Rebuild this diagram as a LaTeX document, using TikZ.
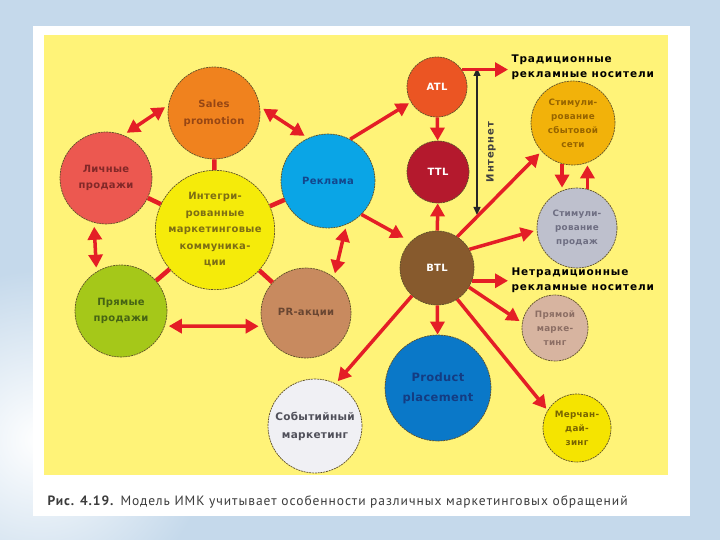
\documentclass[tikz,border=0pt]{standalone}
\usepackage{fontspec}
\setmainfont{DejaVu Sans}
\newfontfamily\circfont{DejaVu Sans}[LetterSpace=3]
\newfontfamily\lblfont{DejaVu Sans}[LetterSpace=8]
\newfontfamily\capfont{PT Sans}[LetterSpace=7]
\usepackage{tikz}
\usetikzlibrary{arrows.meta,positioning}
\definecolor{bgblue}{RGB}{197,217,235}
\definecolor{paneyellow}{RGB}{255,243,120}
\definecolor{rimcol}{RGB}{95,80,40}
\definecolor{arrred}{RGB}{228,30,38}
\definecolor{salesC}{RGB}{240,130,30}
\definecolor{lichC}{RGB}{236,88,80}
\definecolor{imkC}{RGB}{245,235,10}
\definecolor{reklC}{RGB}{10,165,230}
\definecolor{pryamC}{RGB}{165,200,25}
\definecolor{prC}{RGB}{200,138,95}
\definecolor{sobC}{RGB}{240,240,244}
\definecolor{atlC}{RGB}{235,85,35}
\definecolor{ttlC}{RGB}{180,25,45}
\definecolor{btlC}{RGB}{135,90,45}
\definecolor{sbytC}{RGB}{242,178,10}
\definecolor{prodC}{RGB}{190,192,205}
\definecolor{prmC}{RGB}{215,180,160}
\definecolor{ppC}{RGB}{10,120,200}
\definecolor{merchC}{RGB}{245,228,0}
\definecolor{salesT}{RGB}{150,70,20}
\definecolor{lichT}{RGB}{130,40,40}
\definecolor{imkT}{RGB}{125,110,20}
\definecolor{reklT}{RGB}{20,70,140}
\definecolor{pryamT}{RGB}{70,100,20}
\definecolor{prT}{RGB}{105,70,50}
\definecolor{sobT}{RGB}{80,80,90}
\definecolor{sbytT}{RGB}{150,100,0}
\definecolor{prodT}{RGB}{110,110,130}
\definecolor{prmT}{RGB}{140,110,100}
\definecolor{ppT}{RGB}{20,60,130}
\definecolor{merchT}{RGB}{120,100,0}
\definecolor{captext}{RGB}{60,60,60}
\tikzset{
	circ/.style={
		circle,
		draw=rimcol,
		line width=0.7pt,
		dash pattern=on 2pt off 0.8pt,
		inner sep=0pt,
		align=center,
		font=\circfont\bfseries\fontsize{10}{16.5}\selectfont
	},
	small/.style={
		font=\circfont\bfseries\fontsize{8.8}{14}\selectfont
	},
	line/.style={->,draw=arrred,line width=3.5pt},
	link/.style={draw=arrred,line width=4.5pt},
	lbl/.style={
		anchor=west,
		align=left,
		font=\lblfont\bfseries\fontsize{10.5}{15}\selectfont
	}
}

\begin{document}
\begin{tikzpicture}[x=1pt,y=-1pt,>={Triangle[length=13pt,width=14pt]}]
		\useasboundingbox (0,0) rectangle (720,540);
		% background and page
		\fill[bgblue] (0,0) rectangle (720,540);
		\shade[inner color=white,outer color=bgblue] (40,440) circle (170);
		\fill[white] (33,26) rectangle (690,516);
		\fill[paneyellow] (44,35) rectangle (668,475);

		% ring round the centre
		\node[circ,fill=salesC,text=salesT,minimum size=92pt] (sales) at (214,113) {Sales\\promotion};
		\node[circ,fill=lichC,text=lichT,minimum size=92pt] (lich) at (106,178) {Личные\\продажи};
		\node[circ,fill=imkC,text=imkT,minimum size=104pt] (imk) at (215,230) {Интегри-\\рованные\\маркетинговые\\коммуника-\\ции};
		\node[circ,fill=reklC,text=reklT,minimum size=94pt] (rekl) at (328,181) {Реклама};
		\node[circ,fill=pryamC,text=pryamT,minimum size=92pt] (pryam) at (121,311) {Прямые\\продажи};
		\node[circ,fill=prC,text=prT,minimum size=90pt] (pr) at (306,313) {PR-акции};
		\node[circ,fill=sobC,text=sobT,minimum size=94pt,font=\circfont\bfseries\fontsize{10.5}{18}\selectfont] (sob) at (315,426) {Событийный\\маркетинг};

		% ATL / TTL / BTL
		\node[circ,fill=atlC,text=white,minimum size=60pt] (atl) at (437,87) {ATL};
		\node[circ,fill=ttlC,text=white,minimum size=62pt] (ttl) at (438,172) {TTL};
		\node[circ,fill=btlC,text=white,minimum size=74pt] (btl) at (437,268) {BTL};

		% right side
		\node[circ,small,fill=sbytC,text=sbytT,minimum size=84pt] (sbyt) at (573,123) {Стимули-\\рование\\сбытовой\\сети};
		\node[circ,small,fill=prodC,text=prodT,minimum size=80pt] (prod) at (577,228) {Стимули-\\рование\\продаж};
		\node[circ,small,fill=prmC,text=prmT,minimum size=66pt] (prm) at (555,328) {Прямой\\марке-\\тинг};
		\node[circ,fill=ppC,text=ppT,minimum size=106pt,font=\circfont\bfseries\fontsize{11.5}{20}\selectfont] (pp) at (438,388) {Product\\placement};
		\node[circ,small,fill=merchC,text=merchT,minimum size=68pt] (merch) at (577,428) {Мерчан-\\дай-\\зинг};

		\node[lbl] (trad) at (508,67) {Традиционные\\рекламные носители};
		\node[lbl] (netrad) at (508,280) {Нетрадиционные\\рекламные носители};

		% Internet
		\coordinate (inettop) at (477,68);
		\coordinate (inetbot) at (477,215);
		\draw[<->,>={Triangle[length=8pt,width=7pt]},line width=1.2pt,black!85] (inettop) -- (inetbot);
		\node[rotate=90,font=\lblfont\bfseries\fontsize{10}{11}\selectfont,text=black!75] (inet) at (491,152) {Интернет};

		% links to the centre
		\draw[link] (imk) -- (sales);
		\draw[link] (imk) -- (lich);
		\draw[link] (imk) -- (rekl);
		\draw[link] (imk) -- (pryam);
		\draw[link] (imk) -- (pr);

		% outer ring
		\draw[line,<->,shorten <=4pt,shorten >=4pt] (sales.170) -- (lich.68);
		\draw[line,<->,shorten <=4pt,shorten >=4pt] (sales.8) -- (rekl.115);
		\draw[line,<->,shorten <=4pt,shorten >=4pt] (lich.-105) -- (pryam.122);
		\draw[line,<->,shorten <=4pt,shorten >=4pt] (rekl.-67) -- (pr.52);
		\draw[line,<->,shorten <=4pt,shorten >=4pt] (pryam.-19) -- (pr.-163);

		% from Реклама
		\draw[line,shorten >=2pt] (rekl.62) -- (atl.210);
		\draw[line,shorten >=8pt] (rekl.-45) -- (btl.135);
		\draw[line] (atl) -- (ttl);
		\draw[line] (btl) -- (ttl);
		\draw[line] (atl.35) -- (atl.35 -| trad.west);

		% from BTL
		\draw[line,shorten >=3pt] (btl.57) -- (sbyt.222);
		\draw[line,shorten >=3pt] (btl.30) -- (prod.183);
		\draw[line] (sbyt.-105) -- (sbyt.-105 |- prod.north);
		\draw[line] (prod.75) -- (prod.75 |- sbyt.south);
		\draw[line] (btl.-20) -- (btl.-20 -| netrad.west);
		\draw[line,shorten >=3pt] (btl.-31) -- (prm.171);
		\draw[line] (btl) -- (pp);
		\draw[line,shorten >=2pt] (btl.-57) -- (merch.149);
		\draw[line,shorten >=3pt] (btl.-132) -- (sob.64);

		\node[anchor=west,text=captext,font=\capfont\fontsize{13.5}{15}\selectfont] (cap) at (44,502) {\textbf{Рис. 4.19.} Модель ИМК учитывает особенности различных маркетинговых обращений};
	\end{tikzpicture}
\end{document}
